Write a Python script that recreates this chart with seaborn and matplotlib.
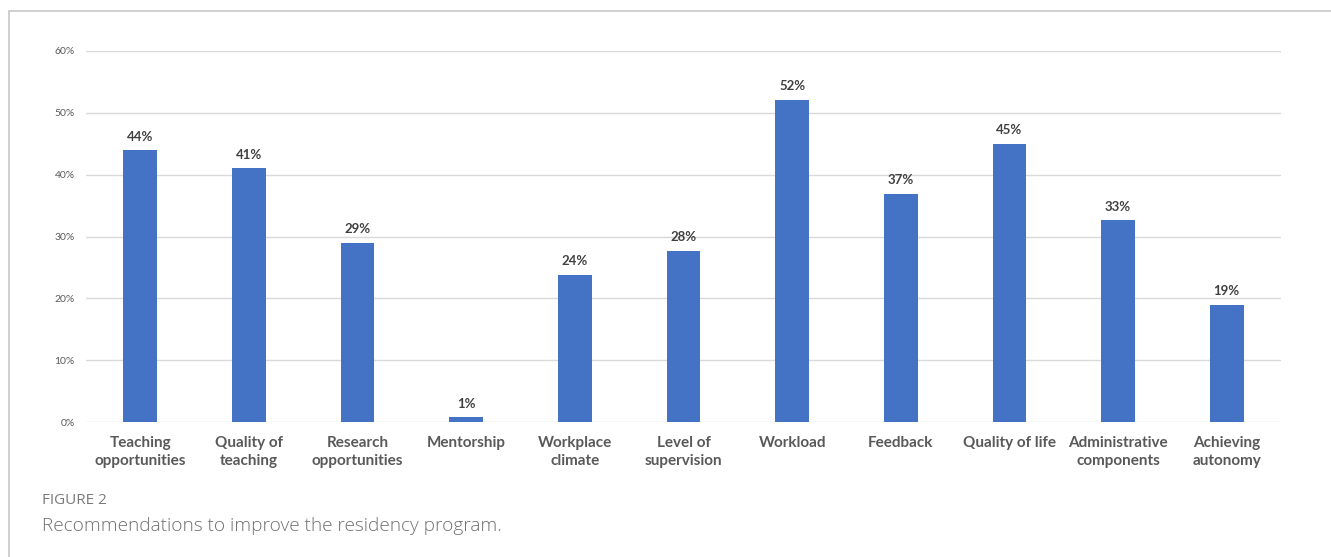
import matplotlib
matplotlib.use("Agg")
import matplotlib.pyplot as plt
import seaborn as sns
import pandas as pd
from matplotlib.lines import Line2D
from matplotlib.ticker import PercentFormatter

categories = ["Teaching\nopportunities", "Quality of\nteaching", "Research\nopportunities",
              "Mentorship", "Workplace\nclimate", "Level of\nsupervision", "Workload",
              "Feedback", "Quality of life", "Administrative\ncomponents", "Achieving\nautonomy"]
values = [44.0, 41.0, 29.0, 0.8, 23.8, 27.7, 52.1, 36.9, 45.0, 32.6, 19.0]
yticks = [0, 10, 20, 30, 40, 50, 60]

sns.set_theme(style="white")
plt.rcParams['font.family'] = ['Lato', 'DejaVu Sans']

df = pd.DataFrame({"cat": categories, "val": values})

fig = plt.figure(figsize=(13.31, 5.57), dpi=100)
ax = fig.add_axes([86/1331, 1-422/557, (1281-86)/1331, (422-51)/557])

sns.barplot(data=df, x="cat", y="val", color="#4472C4", width=0.31, ax=ax,
            saturation=1, edgecolor="none")

ax.set_ylim(0, 60)
ax.set_xlim(-0.5, len(categories) - 0.5)
ax.set_yticks(yticks)
ax.yaxis.set_major_formatter(PercentFormatter(decimals=0))
ax.grid(axis="y", color="#d9d9d9", linewidth=1)
ax.set_axisbelow(True)
for s in ax.spines.values():
    s.set_visible(False)
ax.set_xlabel("")
ax.set_ylabel("")
ax.tick_params(axis="y", labelsize=7.5, colors="#595959", length=0, pad=8)
ax.tick_params(axis="x", labelsize=11, colors="#595959", length=0, pad=10)
for lbl in ax.get_xticklabels():
    lbl.set_fontweight("bold")
    lbl.set_linespacing(1.4)

for i, v in enumerate(values):
    ax.text(i, v + 1.2, f"{round(v):.0f}%", ha="center", va="bottom",
            fontsize=9.5, fontweight="bold", color="#404040")

# frame around the figure panel
fig.add_artist(Line2D([9/1331, 1], [1-11/557, 1-11/557], color="#c8c8c8", linewidth=1.2))
fig.add_artist(Line2D([9/1331, 9/1331], [0, 1-11/557], color="#c8c8c8", linewidth=1.2))

fig.text(42/1331, 1-500/557, "FIGURE 2", fontsize=11, color="#7a7a7a",
         family=["Open Sans", "DejaVu Sans"], va="center", ha="left")
fig.text(42/1331, 1-526/557, "Recommendations to improve the residency program.",
         fontsize=13.7, color="#707070", family=["Open Sans", "DejaVu Sans"],
         fontweight="light", va="center", ha="left")

fig.savefig("out.png", dpi=100)
